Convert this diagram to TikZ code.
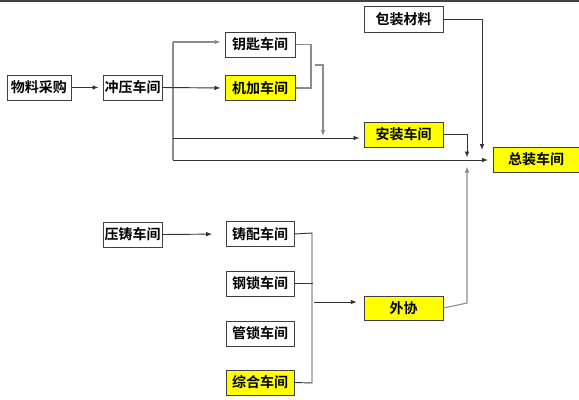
\documentclass[tikz,border=0pt]{standalone}
\usepackage{fontspec}
\newfontfamily\cjk{Noto Sans CJK SC Bold}
\usetikzlibrary{arrows.meta}
\definecolor{ylw}{HTML}{FFFF00}
\tikzset{
  box/.style={draw=black!75, line width=0.75pt, fill=white, inner sep=0pt, minimum height=18.75pt, font=\cjk\fontsize{10.5pt}{12pt}\selectfont},
  ybox/.style={box, fill=ylw},
  conn/.style={draw=black!80, line width=0.7pt},
  gconn/.style={draw=black!45, line width=0.8pt},
  arr/.style={-{Latex[length=4.5pt,width=3.5pt]}},
}
\begin{document}
\begin{tikzpicture}[x=0.75pt,y=-0.75pt]
\useasboundingbox (0,0) rectangle (579,400);
\fill[white] (0,0) rectangle (579,400);
\draw[black!75, line width=1.2pt] (0,0.8) -- (579,0.8);
% nodes
\node[box, minimum width=48pt] (wl) at (39,87.5) {物料采购};
\node[box, minimum width=44.25pt] (cy) at (132.5,87.5) {冲压车间};
\node[box, minimum width=52.5pt] (ys) at (260,44.5) {钥匙车间};
\node[ybox, minimum width=52.5pt] (jj) at (260,88) {机加车间};
\node[box, minimum width=59.25pt, minimum height=19.5pt] (bz) at (403.5,19) {包装材料};
\node[ybox, minimum width=59.25pt] (az) at (403.5,134.5) {安装车间};
\node[ybox, minimum width=64.5pt] (zz) at (536,159.5) {总装车间};
\node[box, minimum width=44.25pt] (yz) at (132.5,234.5) {压铸车间};
\node[box, minimum width=51pt] (zp) at (260,234) {铸配车间};
\node[box, minimum width=51pt] (gs) at (260,283.5) {钢锁车间};
\node[box, minimum width=51pt] (gl) at (260,333.5) {管锁车间};
\node[ybox, minimum width=51pt] (zh) at (260,382.5) {综合车间};
\node[ybox, minimum width=59.25pt, minimum height=18pt] (wx) at (403.5,308) {外协};
% coordinates
\coordinate (b1) at (173,42);
\coordinate (b2) at (173,160);
\coordinate (b3) at (173,138);
\coordinate (j1) at (315,65);
\coordinate (j2) at (323,136);
\coordinate (m1) at (467,157.5);
\coordinate (m2) at (482,150);
\coordinate (m3) at (467,166.5);
\coordinate (zin) at (488,160);
\coordinate (p1) at (312,233);
\coordinate (p2) at (312,383);
\coordinate (p3) at (314,302);
% connectors
\draw[conn, arr, shorten >=3pt] (wl.east) -- (cy.west);
\draw[gconn] (cy.east) -- (173,87.5);
\draw[gconn] (b1) -- (b2);
\draw[gconn, arr, shorten >=3pt] (b1) -- (ys.west |- b1);
\draw[conn, arr, shorten >=3pt] (cy.east) -- (jj.west);
\draw[conn, arr, shorten >=3pt] (b3) -- (az.west |- b3);
\draw[conn, arr] (b2) -- (zin);
\draw[gconn] (ys.east) -- (311,44.5) -- (311,88) -- (jj.east);
\draw[gconn, arr] (j1) -- (323,65) -- (j2);
\draw[conn, arr] (az.east) -- (467,134.5) -- (m1);
\draw[conn, arr] (bz.east) -- (482,19) -- (m2);
\draw[gconn, arr] (wx.east) -- (467,303) -- (m3);
\draw[conn, arr, shorten >=10pt] (yz.east) -- (zp.west);
\draw[conn] (zp.east) -- (p1) -- (p2) -- (zh.east);
\draw[conn] (gs.east) -- (313,283.5);
\draw[conn, arr, shorten >=5pt] (p3) -- (wx.west |- p3);
\end{tikzpicture}
\end{document}
